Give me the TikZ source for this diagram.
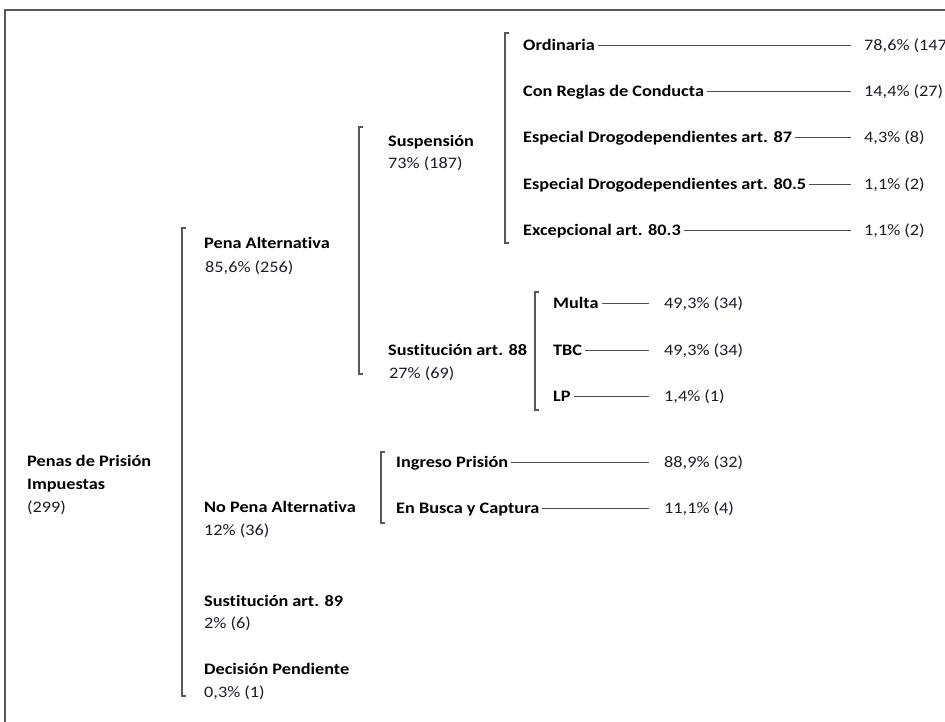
\documentclass[tikz,border=0pt]{standalone}
\usepackage{fontspec}
\setmainfont{Carlito}[Ligatures={NoCommon,NoContextual},FakeStretch=1.14]
\definecolor{txt}{HTML}{1C1C28}
\definecolor{brk}{HTML}{585858}
\definecolor{ln}{HTML}{505050}
\begin{document}
\begin{tikzpicture}[x=1pt,y=-1pt,
  lbl/.style={anchor=base west,inner sep=0pt,text height=10pt,text depth=0pt,font=\bfseries\fontsize{16}{19}\selectfont,text=black},
  val/.style={anchor=base west,inner sep=0pt,text height=10pt,text depth=0pt,font=\fontsize{16}{19}\selectfont,text=txt},
  brk/.style={draw=brk,line width=1.2pt},
  framel/.style={draw=brk,line width=1.4pt},
  conn/.style={draw=ln,line width=0.9pt,shorten <=3pt},
]
\useasboundingbox (0,0) rectangle (945,721);
\clip (0,0) rectangle (945,721);
\draw[framel] (960,10) -- (5,10) -- (5,740);

% root
\node[lbl] (root1) at (27,466) {Penas de Prisión};
\node[lbl] (root2) at (27,489) {Impuestas};
\node[val] (rootv) at (27,512) {(299)};

% bracket 1
\draw[brk] (186,228) -- (182,228) -- (182,696) -- (186,696);
\node[lbl] (pa) at (204,248) {Pena Alternativa};
\node[val] (pav) at (205,272) {85,6\% (256)};
\node[lbl] (npa) at (204,512) {No Pena Alternativa};
\node[val] (npav) at (204,535) {12\% (36)};
\node[lbl] (s89) at (204,606) {Sustitución art. 89};
\node[val] (s89v) at (204,628) {2\% (6)};
\node[lbl] (dp) at (204,674) {Decisión Pendiente};
\node[val] (dpv) at (204,697) {0,3\% (1)};

% bracket 2
\draw[brk] (363,127) -- (359,127) -- (359,374) -- (363,374);
\node[lbl] (sus) at (388,146) {Suspensión};
\node[val] (susv) at (388,168) {73\% (187)};
\node[lbl] (s88) at (388,355) {Sustitución art. 88};
\node[val] (s88v) at (389,378) {27\% (69)};

% bracket 3
\draw[brk] (509,33) -- (505,33) -- (505,243) -- (509,243);
\node[lbl] (ord) at (523,50) {Ordinaria};
\node[val] (ordv) at (864,50) {78,6\% (147)};
\node[lbl] (crc) at (523,96) {Con Reglas de Conducta};
\node[val] (crcv) at (864,96) {14,4\% (27)};
\node[lbl] (e87) at (523,142) {Especial Drogodependientes art. 87};
\node[val] (e87v) at (864,142) {4,3\% (8)};
\node[lbl] (e805) at (523,189) {Especial Drogodependientes art. 80.5};
\node[val] (e805v) at (864,189) {1,1\% (2)};
\node[lbl] (exc) at (523,235) {Excepcional art. 80.3};
\node[val] (excv) at (864,235) {1,1\% (2)};
\foreach \a in {ord,crc,e87,e805,exc}
  \draw[conn,shorten >=13pt] (\a.east) -- (\a v.west);

% bracket 4
\draw[brk] (539,292) -- (535,292) -- (535,410) -- (539,410);
\node[lbl] (mul) at (553,308) {Multa};
\node[val] (mulv) at (664,308) {49,3\% (34)};
\node[lbl] (tbc) at (553,355) {TBC};
\node[val] (tbcv) at (664,355) {49,3\% (34)};
\node[lbl] (lp) at (553,401) {LP};
\node[val] (lpv) at (664,401) {1,4\% (1)};
\foreach \a in {mul,tbc,lp}
  \draw[conn,shorten >=15pt] (\a.east) -- (\a v.west);

% bracket 5
\draw[brk] (385,452) -- (381,452) -- (381,523) -- (385,523);
\node[lbl] (ing) at (396,467) {Ingreso Prisión};
\node[val] (ingv) at (664,467) {88,9\% (32)};
\node[lbl] (ebc) at (396,513) {En Busca y Captura};
\node[val] (ebcv) at (664,513) {11,1\% (4)};
\foreach \a in {ing,ebc}
  \draw[conn,shorten >=15pt] (\a.east) -- (\a v.west);
\end{tikzpicture}
\end{document}
